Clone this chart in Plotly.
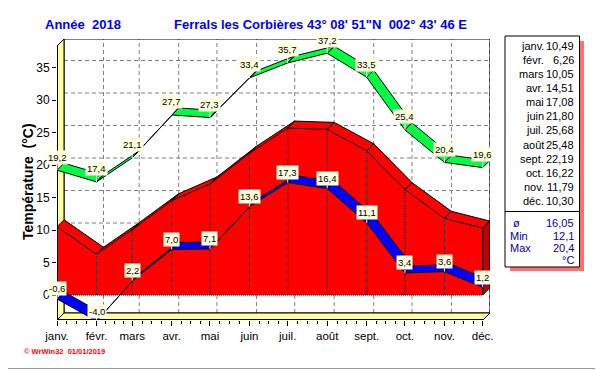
import plotly.graph_objects as go

# ---------------- data ----------------
months = ["janv.", "févr.", "mars", "avr.", "mai", "juin", "juil.", "août", "sept.", "oct.", "nov.", "déc."]
month_days = [0, 31, 59, 90, 120, 151, 181, 212, 243, 273, 304, 334]
month_len = [31, 28, 31, 30, 31, 30, 31, 31, 30, 31, 30, 31]
t_mean = [10.49, 6.26, 10.05, 14.51, 17.08, 21.80, 25.68, 25.48, 22.19, 16.22, 11.79, 10.30]
t_max = [19.2, 17.4, 21.1, 27.7, 27.3, 33.4, 35.7, 37.2, 33.5, 25.4, 20.4, 19.6]
t_min = [-0.6, -4.0, 2.2, 7.0, 7.1, 13.6, 17.3, 16.4, 11.1, 3.4, 3.6, 1.2]
y_ticks = [0, 5, 10, 15, 20, 25, 30, 35]
stats_labels = ["ø", "Min", "Max"]
stats_values = [16.05, 12.1, 20.4]
unit = "°C"
title_left = "Année\u00a0\u00a02018"
title_right = "Ferrals les Corbières 43° 08' 51\"N\u00a0\u00a0002° 43' 46 E"
y_title = "Température\u00a0\u00a0(°C)"
footer = "© WrWin32\u00a0\u00a001/01/2019"

# ---------------- geometry (reference pixels) ----------------
OFF = 8                      # page body margin
W, H = 603 - OFF, 370 - OFF
L, R, T, B = 57, 490, 39, 320
PX_DAY = (482.7 - 57) / 334
PX_DEG = 6.5
Y0 = 295
XMAX = (R - L) / PX_DAY
YMIN = (Y0 - B) / PX_DEG
YMAX = (Y0 - T) / PX_DEG
DEPTH = 7
DX = DEPTH / PX_DAY
DY = DEPTH / PX_DEG


def px(x):
    return (x - L) / (R - L)


def py(y):
    return (B - y) / (B - T)


def fmt(v, nd=None):
    s = f"{v:.{nd}f}" if nd is not None else str(v)
    return s.replace(".", ",")


def ribbon(xs, vs):
    X, Y = [], []
    for i in range(len(xs) - 1):
        X += [xs[i], xs[i + 1], xs[i + 1] + DX, xs[i] + DX, xs[i], None]
        Y += [vs[i], vs[i + 1], vs[i + 1] + DY, vs[i] + DY, vs[i], None]
    return X, Y


fig = go.Figure()

# red block: back face, front face, top ribbon, side face
fig.add_trace(go.Scatter(
    x=[DX] + [d + DX for d in month_days] + [month_days[-1] + DX],
    y=[DY] + [v + DY for v in t_mean] + [DY],
    fill="toself", fillcolor="#ff0000", mode="lines", line=dict(width=0),
    hoverinfo="skip", showlegend=False))
fig.add_trace(go.Scatter(
    x=[month_days[0]] + month_days + [month_days[-1]],
    y=[0] + t_mean + [0],
    fill="toself", fillcolor="#ff0000", mode="lines", line=dict(width=0),
    hoverinfo="skip", showlegend=False))
rx, ry = ribbon(month_days, t_mean)
fig.add_trace(go.Scatter(x=rx, y=ry, fill="toself", fillcolor="#ff0000", mode="lines",
                         line=dict(color="black", width=1), hoverinfo="skip", showlegend=False))
dl = month_days[-1]
vl = t_mean[-1]
fig.add_trace(go.Scatter(
    x=[dl, dl + DX, dl + DX, dl, dl], y=[0, DY, vl + DY, vl, 0],
    fill="toself", fillcolor="#c00000", mode="lines", line=dict(color="black", width=1),
    hoverinfo="skip", showlegend=False))
# dotted month lines on the front face and bottom edge
dx_, dy_ = [], []
for d, v in zip(month_days, t_mean):
    dx_ += [d, d, None]
    dy_ += [0, v, None]
dx_ += [month_days[0], month_days[-1], None]
dy_ += [0, 0, None]
fig.add_trace(go.Scatter(x=dx_, y=dy_, mode="lines",
                         line=dict(color="black", width=1, dash="1px,1px"),
                         hoverinfo="skip", showlegend=False))

# green (max) and blue (min) ribbons
gx, gy = ribbon(month_days, t_max)
fig.add_trace(go.Scatter(x=gx, y=gy, fill="toself", fillcolor="#00ff40", mode="lines",
                         line=dict(color="black", width=1), hoverinfo="skip", showlegend=False))
bx, by = ribbon(month_days, t_min)
fig.add_trace(go.Scatter(x=bx, y=by, fill="toself", fillcolor="#0000ff", mode="lines",
                         line=dict(color="black", width=1), hoverinfo="skip", showlegend=False))

lab_font = dict(family="Liberation Sans, Arial", size=9.5, color="black")
annotations = []


def point_label(d, v, lift):
    # keep the anchor inside the axis range so the label is not hidden
    vv = max(v, YMIN + 0.05)
    shift = (vv - v) * PX_DEG
    return dict(x=d, y=vv, xref="x", yref="y", text=fmt(v, 1), showarrow=True,
                arrowhead=0, arrowwidth=1, arrowcolor="white", ax=0, ay=-lift + shift,
                bgcolor="#ffffe1", borderpad=1, font=lab_font)


for d, v in zip(month_days, t_max):
    annotations.append(point_label(d, v, 13))
for d, v in zip(month_days, t_min):
    annotations.append(point_label(d, v, 10))

# ---------------- walls / grid ----------------
shapes = []
grid = dict(color="#808080", width=1, dash="4px,3px")
for v in y_ticks:
    shapes.append(dict(type="line", xref="x", yref="y", x0=DX, x1=XMAX, y0=v + DY, y1=v + DY,
                       line=grid, layer="below"))
for d in month_days[1:]:
    shapes.append(dict(type="line", xref="x", yref="y", x0=d + DX, x1=d + DX, y0=YMIN + DY, y1=YMAX,
                       line=grid, layer="below"))
shapes.append(dict(type="rect", xref="x", yref="y", x0=DX, x1=XMAX, y0=YMIN + DY, y1=YMAX,
                   line=dict(color="black", width=1), layer="below"))
shapes.append(dict(type="path", xref="x", yref="y",
                   path=f"M 0 {YMIN} L 0 {YMAX - DY} L {DX} {YMAX} L {DX} {YMIN + DY} Z",
                   fillcolor="#ffffa0", line=dict(color="black", width=1), layer="below"))
shapes.append(dict(type="path", xref="x", yref="y",
                   path=f"M 0 {YMIN} L {XMAX - DX} {YMIN} L {XMAX} {YMIN + DY} L {DX} {YMIN + DY} Z",
                   fillcolor="#ffffa0", line=dict(color="black", width=1), layer="below"))
shapes.append(dict(type="line", xref="x", yref="y", x0=0, x1=0, y0=YMIN, y1=YMAX - DY,
                   line=dict(color="black", width=2)))
shapes.append(dict(type="line", xref="x", yref="y", x0=0, x1=XMAX - DX, y0=YMIN, y1=YMIN,
                   line=dict(color="black", width=2)))

# ---------------- stats box ----------------
shapes.append(dict(type="rect", xref="paper", yref="paper", x0=px(510), x1=px(584), y0=py(41), y1=py(271),
                   fillcolor="#ff7070", line=dict(width=0), layer="below"))
shapes.append(dict(type="rect", xref="paper", yref="paper", x0=px(505), x1=px(579.5), y0=py(36), y1=py(267),
                   fillcolor="white", line=dict(color="black", width=1), layer="below"))
shapes.append(dict(type="line", xref="paper", yref="paper", x0=px(505), x1=px(579.5), y0=py(211.5), y1=py(211.5),
                   line=dict(color="black", width=1)))
shapes.append(dict(type="line", xref="paper", yref="paper", x0=px(598.5), x1=px(598.5), y0=py(OFF), y1=py(370),
                   line=dict(color="#a0a0a0", width=1)))
shapes.append(dict(type="line", xref="paper", yref="paper", x0=px(OFF), x1=px(603), y0=py(368.5), y1=py(368.5),
                   line=dict(color="#a0a0a0", width=1)))

tf = dict(family="Liberation Sans, Arial", size=11, color="black")
for i, (m, v) in enumerate(zip(months, t_mean)):
    yy = 45.7 + 14.13 * i
    annotations.append(dict(x=px(546), y=py(yy), xref="paper", yref="paper", text=m, showarrow=False,
                            xanchor="right", yanchor="middle", font=tf))
    annotations.append(dict(x=px(576), y=py(yy), xref="paper", yref="paper", text=fmt(v, 2), showarrow=False,
                            xanchor="right", yanchor="middle", font=tf))
sf = dict(family="Liberation Sans, Arial", size=11, color="#0000a0")
for i, (lab, v) in enumerate(zip(stats_labels, stats_values)):
    yy = 223.3 + 12.3 * i
    annotations.append(dict(x=px(508 if lab != "ø" else 511), y=py(yy), xref="paper", yref="paper", text=lab,
                            showarrow=False, xanchor="left", yanchor="middle", font=sf))
    annotations.append(dict(x=px(576), y=py(yy), xref="paper", yref="paper", text=fmt(v),
                            showarrow=False, xanchor="right", yanchor="middle", font=sf))
annotations.append(dict(x=px(576), y=py(259.5), xref="paper", yref="paper", text=unit,
                        showarrow=False, xanchor="right", yanchor="middle", font=sf))

titlef = dict(family="Liberation Sans, Arial", size=13, color="#0000ff")
annotations.append(dict(x=px(43), y=py(25), xref="paper", yref="paper", text=f"<b>{title_left}</b>",
                        showarrow=False, xanchor="left", yanchor="middle", font=titlef))
annotations.append(dict(x=px(172), y=py(25), xref="paper", yref="paper", text=f"<b>{title_right}</b>",
                        showarrow=False, xanchor="left", yanchor="middle", font=titlef))
annotations.append(dict(x=px(28), y=py(182), xref="paper", yref="paper", text=f"<b>{y_title}</b>",
                        showarrow=False, xanchor="center", yanchor="middle", textangle=-90,
                        font=dict(family="Liberation Sans, Arial", size=14, color="black")))
annotations.append(dict(x=px(22), y=py(351.5), xref="paper", yref="paper", text=f"<b>{footer}</b>",
                        showarrow=False, xanchor="left", yanchor="middle",
                        font=dict(family="Liberation Sans, Arial", size=7.5, color="#ff0000")))

minor_vals = []
for d, n in zip(month_days, month_len):
    for k in range(1, 4):
        minor_vals.append(d + k * n / 4)

fig.update_layout(
    width=W, height=H,
    margin=dict(l=L - OFF, r=603 - R, t=T - OFF, b=370 - B, pad=0),
    paper_bgcolor="white", plot_bgcolor="white",
    showlegend=False,
    shapes=shapes, annotations=annotations,
    xaxis=dict(range=[0, XMAX], tickmode="array", tickvals=month_days, ticktext=months,
               showgrid=False, zeroline=False, showline=False,
               ticks="outside", ticklen=5, tickcolor="black", tickwidth=1,
               tickfont=dict(family="Liberation Sans, Arial", size=11.5, color="black"),
               minor=dict(tickvals=minor_vals, ticks="outside", ticklen=3, tickcolor="black", showgrid=False),
               fixedrange=True),
    yaxis=dict(range=[YMIN, YMAX], tickmode="array", tickvals=y_ticks, ticktext=[str(v) for v in y_ticks],
               showgrid=False, zeroline=False, showline=False,
               ticks="outside", ticklen=4, tickcolor="black", tickwidth=1,
               tickfont=dict(family="Liberation Sans, Arial", size=12, color="black"),
               fixedrange=True),
)

fig.write_html("out.html")
